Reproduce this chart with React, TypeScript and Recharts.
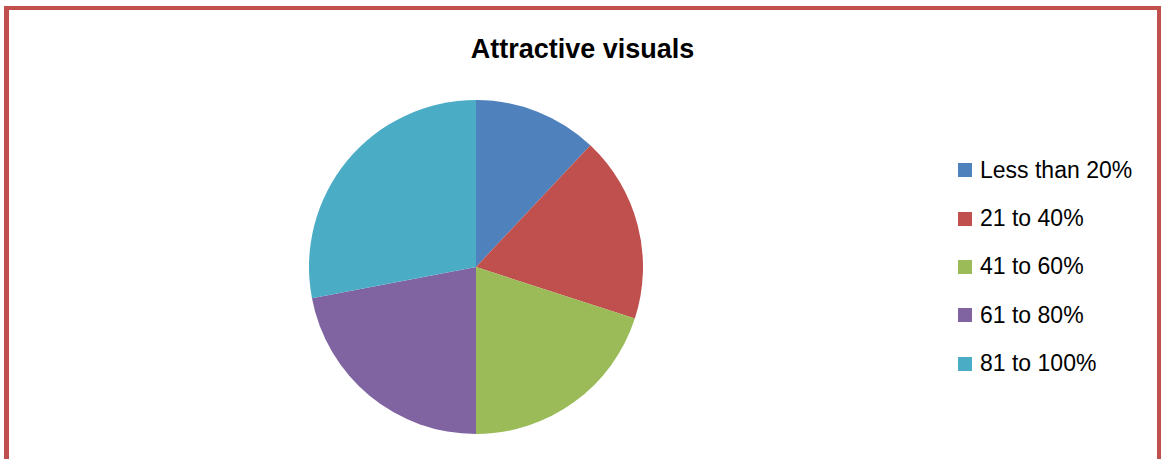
import React from 'react';
import { PieChart, Pie, Cell, Legend } from 'recharts';

const categories = ['Less than 20%', '21 to 40%', '41 to 60%', '61 to 80%', '81 to 100%'];
const values = [12, 18, 20, 22, 28];
const colors = ['#4F81BD', '#C0504D', '#9BBB59', '#8064A2', '#4BACC6'];

const data = categories.map((name, i) => ({ name, value: values[i] }));

const font = '"Liberation Sans", Arial, sans-serif';

const LegendList = () => (
  <div style={{ fontFamily: font, fontSize: 23, color: '#000' }}>
    {categories.map((c, i) => (
      <div key={c} style={{ display: 'flex', alignItems: 'center', height: 48.4 }}>
        <span style={{ width: 14, height: 14, background: colors[i], marginRight: 8, flexShrink: 0 }} />
        <span style={{ whiteSpace: 'nowrap' }}>{c}</span>
      </div>
    ))}
  </div>
);

export default function App() {
  return (
    <div style={{ position: 'absolute', left: 0, top: 0, width: 1161, height: 459, background: '#fff', overflow: 'hidden' }}>
      <div
        style={{
          position: 'absolute',
          left: 4,
          top: 6,
          width: 1148,
          height: 470,
          borderLeft: '5px solid #C0504D',
          borderTop: '4px solid #C0504D',
          borderRight: '4px solid #C0504D',
        }}
      />
      <div
        style={{
          position: 'absolute',
          left: 0,
          width: 1165,
          top: 34,
          textAlign: 'center',
          fontFamily: font,
          fontWeight: 'bold',
          fontSize: 27,
          color: '#000',
        }}
      >
        Attractive visuals
      </div>
      <div style={{ position: 'absolute', left: 0, top: 0 }}>
        <PieChart width={1161} height={459} margin={{ top: 0, right: 0, bottom: 0, left: 0 }}>
          <Pie
            data={data}
            dataKey="value"
            nameKey="name"
            cx={476}
            cy={267}
            outerRadius={167}
            startAngle={90}
            endAngle={-270}
            stroke="none"
            isAnimationActive={false}
          >
            {data.map((d, i) => (
              <Cell key={d.name} fill={colors[i]} />
            ))}
          </Pie>
          <Legend
            layout="vertical"
            content={() => <LegendList />}
            wrapperStyle={{ position: 'absolute', left: 958, top: 146, width: 200 }}
          />
        </PieChart>
      </div>
    </div>
  );
}
